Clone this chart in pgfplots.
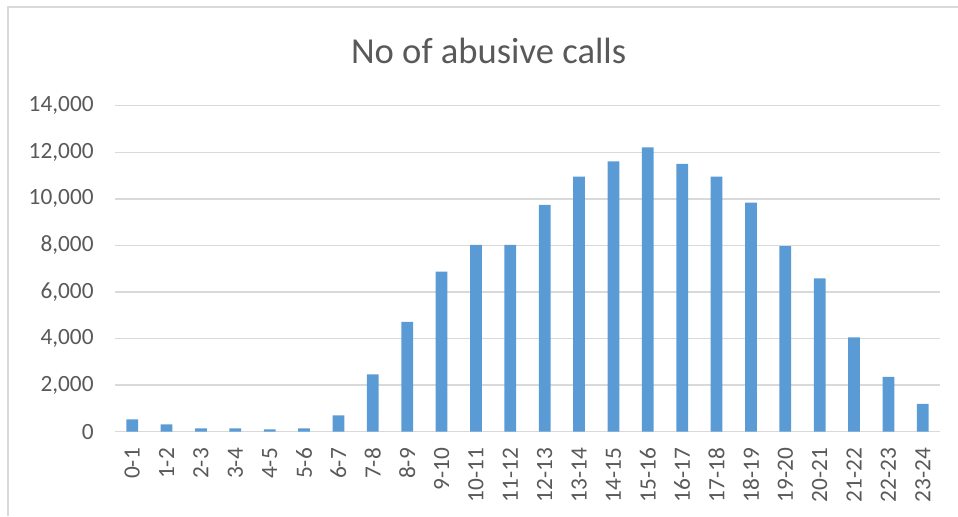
\documentclass[border=0pt]{standalone}
\usepackage{fontspec}
\setmainfont{Carlito}
\usepackage{pgfplots}
\pgfplotsset{compat=1.18}
\definecolor{barblue}{HTML}{5B9BD5}
\definecolor{gridgray}{HTML}{D9D9D9}
\definecolor{textgray}{HTML}{595959}
\begin{document}
\begin{tikzpicture}
\useasboundingbox (0,0) rectangle (479pt,258pt);
% chart frame (top and left edges)
\draw[gridgray, line width=0.75pt] (4pt,0) -- (4pt,254.5pt) -- (479pt,254.5pt);
\node[anchor=base, text=textgray, font=\fontsize{18.3}{22}\selectfont, inner sep=0pt]
  at (244.3pt,226.5pt) {No of abusive calls};
\begin{axis}[
  at={(57.5pt,42.15pt)}, anchor=south west,
  scale only axis, width=412.5pt, height=163pt,
  xmin=-0.5, xmax=23.5, ymin=0, ymax=14000,
  ytick distance=2000,
  scaled y ticks=false,
  xtick=data,
  xticklabels={0-1,1-2,2-3,3-4,4-5,5-6,6-7,7-8,8-9,9-10,10-11,11-12,12-13,13-14,14-15,15-16,16-17,17-18,18-19,19-20,20-21,21-22,22-23,23-24},
  axis x line*=bottom, axis y line*=left,
  x axis line style={gridgray, line width=0.75pt, -},
  y axis line style={draw=none},
  ymajorgrids, grid style={gridgray, line width=0.75pt},
  major tick length=0pt,
  tick label style={text=textgray, font=\fontsize{11.65}{14}\selectfont, inner sep=0pt},
  xticklabel style={rotate=90, anchor=east},
  yticklabel style={anchor=east},
  xticklabel shift=8pt,
  yticklabel shift=10.5pt,
  /pgf/number format/fixed,
  /pgf/number format/precision=0,
  /pgf/number format/1000 sep={,},
  /pgf/number format/assume math mode=true,
]
\addplot[ybar, bar width=5.85pt, fill=barblue, draw=none] coordinates {
  (0,530) (1,315) (2,145) (3,145) (4,100) (5,145) (6,700) (7,2460)
  (8,4720) (9,6870) (10,8020) (11,8020) (12,9740) (13,10950) (14,11610)
  (15,12210) (16,11500) (17,10950) (18,9840) (19,7970) (20,6590)
  (21,4050) (22,2360) (23,1190)
};
\end{axis}
\end{tikzpicture}
\end{document}
